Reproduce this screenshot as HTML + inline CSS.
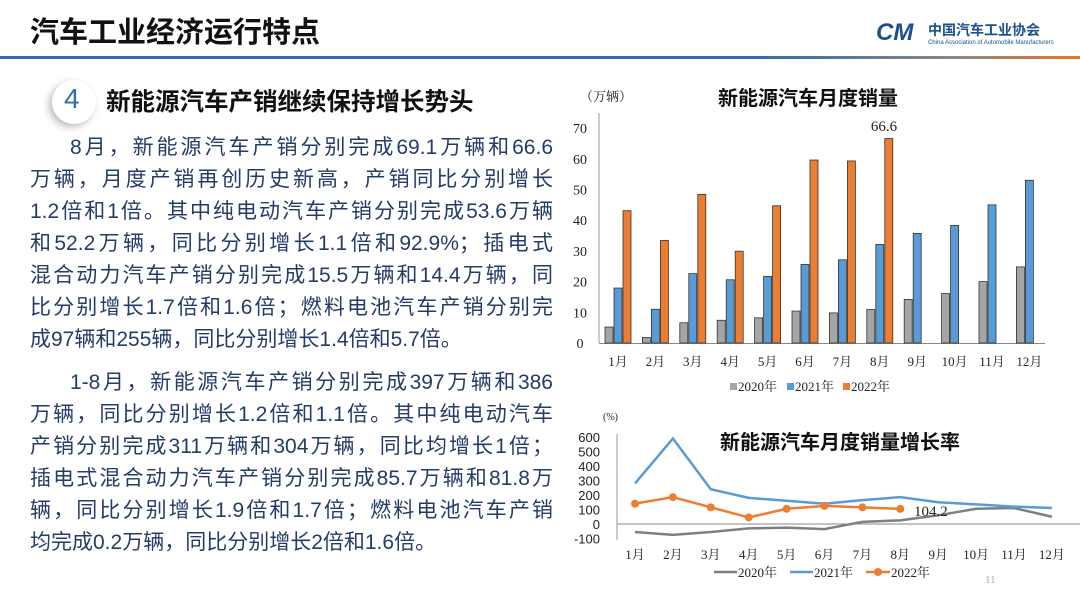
<!DOCTYPE html>
<html><head><meta charset="utf-8">
<style>
body{margin:0;width:1080px;height:604px;background:#fff;overflow:hidden;position:relative;font-family:"Liberation Sans","Noto Sans CJK SC",sans-serif}
.t{position:absolute;font-size:21px;color:#253b68;white-space:nowrap;text-align-last:justify;text-align:justify;line-height:24px}
</style></head><body>
<div style="position:absolute;left:30px;top:9px;font-size:29px;font-weight:bold;color:#111">汽车工业经济运行特点</div>
<div style="position:absolute;left:876px;top:22px;width:40px;height:22px;font:italic bold 24px 'Liberation Sans';color:#1d4f8c;line-height:22px">CM</div>
<div style="position:absolute;left:928px;top:20px;font-size:14px;font-weight:bold;color:#1d4f8c">中国汽车工业协会</div>
<div style="position:absolute;left:928px;top:40px;font-size:6px;color:#1d4f8c">China Association of Automobile Manufacturers</div>
<div style="position:absolute;left:0;top:56px;width:1080px;height:3px;background:linear-gradient(90deg,#2f6db0 0%,#2f6db0 70%,#888 88%,#e8761f 100%)"></div>
<div style="position:absolute;left:52px;top:80px;width:44px;height:44px;border-radius:50%;background:#fff;box-shadow:-3px 3px 8px #bbb"></div>
<div style="position:absolute;left:64px;top:83px;font-size:28px;color:#2f6db0">4</div>
<div style="position:absolute;left:106px;top:83px;font-size:24.5px;font-weight:bold;color:#111">新能源汽车产销继续保持增长势头</div>

<div class="t" style="left:70px;top:136px;width:483px">8月，新能源汽车产销分别完成69.1万辆和66.6</div>
<div class="t" style="left:30px;top:168px;width:523px">万辆，月度产销再创历史新高，产销同比分别增长</div>
<div class="t" style="left:30px;top:200px;width:523px">1.2倍和1倍。其中纯电动汽车产销分别完成53.6万辆</div>
<div class="t" style="left:30px;top:232px;width:523px">和52.2万辆，同比分别增长1.1倍和92.9%；插电式</div>
<div class="t" style="left:30px;top:264px;width:523px">混合动力汽车产销分别完成15.5万辆和14.4万辆，同</div>
<div class="t" style="left:30px;top:296px;width:523px">比分别增长1.7倍和1.6倍；燃料电池汽车产销分别完</div>
<div class="t" style="left:30px;top:328px;text-align-last:auto">成97辆和255辆，同比分别增长1.4倍和5.7倍。</div>
<div class="t" style="left:70px;top:371px;width:483px">1-8月，新能源汽车产销分别完成397万辆和386</div>
<div class="t" style="left:30px;top:403px;width:523px">万辆，同比分别增长1.2倍和1.1倍。其中纯电动汽车</div>
<div class="t" style="left:30px;top:435px;width:523px">产销分别完成311万辆和304万辆，同比均增长1倍；</div>
<div class="t" style="left:30px;top:467px;width:523px">插电式混合动力汽车产销分别完成85.7万辆和81.8万</div>
<div class="t" style="left:30px;top:499px;width:523px">辆，同比分别增长1.9倍和1.7倍；燃料电池汽车产销</div>
<div class="t" style="left:30px;top:531px;text-align-last:auto">均完成0.2万辆，同比分别增长2倍和1.6倍。</div>

<svg id="s" width="1080" height="604" style="position:absolute;left:0;top:0" font-family="Liberation Serif,Noto Serif CJK SC,serif"></svg>
<script>
var s=document.getElementById('s'),h='';
function T(x,y,t,o){h+='<text x="'+x+'" y="'+y+'" '+(o||'')+'>'+t+'</text>';}
T(580,101,'（万辆）','font-size="13" fill="#222"');
T(808,105,'新能源汽车月度销量','font-size="20" font-weight="bold" font-family="Liberation Sans,Noto Sans CJK SC,sans-serif" text-anchor="middle" fill="#111"');
var y0=343,k=3.07;
h+='<line x1="599" y1="113" x2="599" y2="343" stroke="#999"/>';
h+='<line x1="599" y1="343.5" x2="1045" y2="343.5" stroke="#888"/>';
for(var i=0;i<=7;i++)T(580,y0-i*10*k+5,i*10,'font-size="14" text-anchor="middle" fill="#222"');
var a=[5.2,1.8,6.6,7.4,8.2,10.4,9.8,10.9,14.2,16.1,20.0,24.8],b=[17.9,11.0,22.6,20.6,21.7,25.6,27.1,32.1,35.7,38.3,45.0,53.0],c=[43.1,33.4,48.4,29.9,44.7,59.6,59.3,66.6];
for(i=0;i<12;i++){var cx=618+i*37.4;
 h+='<rect x="'+(cx-13)+'" y="'+(y0-a[i]*k)+'" width="8" height="'+a[i]*k+'" fill="#a5a5a5" stroke="#333" stroke-width="0.8"/>';
 h+='<rect x="'+(cx-4)+'" y="'+(y0-b[i]*k)+'" width="8" height="'+b[i]*k+'" fill="#5b9bd5" stroke="#333" stroke-width="0.8"/>';
 if(i<8)h+='<rect x="'+(cx+5)+'" y="'+(y0-c[i]*k)+'" width="8" height="'+c[i]*k+'" fill="#ed7d31" stroke="#333" stroke-width="0.8"/>';
 T(cx,366,(i+1)+'月','font-size="13" text-anchor="middle" fill="#222"');}
T(884,131,'66.6','font-size="15" text-anchor="middle" fill="#222"');
h+='<rect x="730" y="383" width="7" height="7" fill="#a5a5a5"/><rect x="787" y="383" width="7" height="7" fill="#5b9bd5"/><rect x="843" y="383" width="7" height="7" fill="#ed7d31"/>';
T(738,391,'2020年','font-size="13" fill="#222"');T(795,391,'2021年','font-size="13" fill="#222"');T(851,391,'2022年','font-size="13" fill="#222"');
T(603,420,'(%)','font-size="10" fill="#222"');
T(840,449,'新能源汽车月度销量增长率','font-size="20" font-weight="bold" font-family="Liberation Sans,Noto Sans CJK SC,sans-serif" text-anchor="middle" fill="#111"');
var z=524,q=0.145;
h+='<line x1="617" y1="434" x2="617" y2="540" stroke="#999"/><line x1="617" y1="524" x2="1080" y2="524" stroke="#888"/>';
for(i=-1;i<=6;i++)T(600,z-i*100*q+5,i*100,'font-size="13" font-family="Liberation Sans,sans-serif" text-anchor="end" fill="#222"');
var L1=[-55,-75,-55,-30,-25,-35,15,25,60,105,110,50],L2=[280,590,240,180,160,140,165,185,150,135,120,110],L3=[140,185,115,45,105,125,115,104];
function P(d){return d.map(function(v,i){return (635+i*37.9)+','+(z-v*q)}).join(' ');}
h+='<polyline points="'+P(L1)+'" fill="none" stroke="#7f7f7f" stroke-width="2.5"/>';
h+='<polyline points="'+P(L2)+'" fill="none" stroke="#5b9bd5" stroke-width="2.5"/>';
h+='<polyline points="'+P(L3)+'" fill="none" stroke="#ed7d31" stroke-width="2.5"/>';
L3.forEach(function(v,i){h+='<circle cx="'+(635+i*37.9)+'" cy="'+(z-v*q)+'" r="4" fill="#ed7d31"/>';});
T(914,516,'104.2','font-size="15" fill="#222"');
for(i=0;i<12;i++)T(635+i*37.9,559,(i+1)+'月','font-size="13" text-anchor="middle" fill="#222"');
h+='<line x1="714" y1="572" x2="737" y2="572" stroke="#7f7f7f" stroke-width="2.5"/><line x1="790" y1="572" x2="813" y2="572" stroke="#5b9bd5" stroke-width="2.5"/><line x1="866" y1="572" x2="890" y2="572" stroke="#ed7d31" stroke-width="2.5"/><circle cx="878" cy="572" r="4" fill="#ed7d31"/>';
T(738,577,'2020年','font-size="13" fill="#222"');T(814,577,'2021年','font-size="13" fill="#222"');T(891,577,'2022年','font-size="13" fill="#222"');
T(985,583,'11','font-size="11" fill="#aaa"');
s.innerHTML=h;
</script>
</body></html>
